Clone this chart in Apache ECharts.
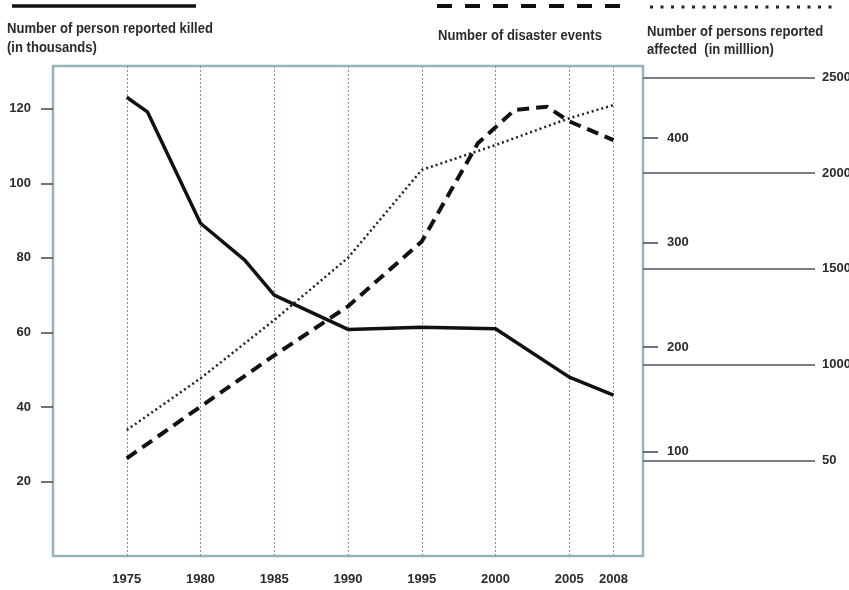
<!DOCTYPE html>
<html>
<head>
<meta charset="utf-8">
<script src="https://cdn.jsdelivr.net/npm/echarts@6/dist/echarts.min.js"></script>
<style>
  html, body { margin: 0; padding: 0; background: #fff; }
  #chart { width: 849px; height: 590px; }
</style>
</head>
<body>
<div id="chart"></div>
<script>
// tick labels
const yearTicks = [1975, 1980, 1985, 1990, 1995, 2000, 2005, 2008];
const killedTicks = [20, 40, 60, 80, 100, 120];
const eventTicks = [100, 200, 300, 400];
const affectedTicks = [500, 1000, 1500, 2000, 2500];
const affectedTickLabels = ['50', '1000', '1500', '2000', '2500'];

// persons killed (thousands)
const killedYears = [1975, 1976.4, 1980, 1983, 1985, 1990, 1995, 2000, 2005, 2008];
const killedValues = [123.1, 119.2, 89.3, 79.4, 70.0, 60.8, 61.4, 61.0, 48.0, 43.2];

// disaster events
const eventYears = [1975, 1980, 1985, 1990, 1995, 1998.8, 2001.3, 2003.5, 2005, 2008];
const eventValues = [93.5, 143, 192, 239, 301, 395, 427, 430, 416, 398];

// persons affected (million)
const affectedYears = [1975, 1980, 1985, 1990, 1995, 2000, 2005, 2008];
const affectedValues = [658, 928, 1233, 1558, 2017, 2147, 2287, 2356];

const font = "'Liberation Sans', Arial, sans-serif";
const textColor = '#2b2b2b';
const borderColor = '#97b4bc';

function zip(xs, ys) {
  return xs.map((x, i) => [x, ys[i]]);
}

const chart = echarts.init(document.getElementById('chart'), null, { renderer: 'canvas' });

const labelStyle = {
  fontFamily: font,
  fontWeight: 'bold',
  fontSize: 13,
  color: textColor
};

chart.setOption({
  animation: false,
  backgroundColor: '#fff',
  grid: {
    left: 53,
    right: 206,
    top: 66,
    bottom: 34,
    outerBoundsMode: 'none',
    containLabel: false,
    show: true,
    borderColor: borderColor,
    borderWidth: 2.5,
    backgroundColor: 'transparent'
  },
  xAxis: {
    type: 'value',
    min: 1970,
    max: 2010,
    axisLine: { show: false },
    axisTick: { show: false },
    splitLine: { show: false },
    axisLabel: Object.assign({
      customValues: yearTicks,
      margin: 17,
      formatter: v => String(v)
    }, labelStyle)
  },
  yAxis: [
    {
      type: 'value',
      position: 'left',
      min: 0,
      max: 131.5,
      axisLine: { show: false },
      splitLine: { show: false },
      axisTick: {
        show: true,
        customValues: killedTicks,
        length: 12,
        lineStyle: { color: '#444', width: 1.5 }
      },
      axisLabel: Object.assign({ customValues: killedTicks, margin: 22 }, labelStyle)
    },
    {
      type: 'value',
      position: 'right',
      min: 0,
      max: 469,
      axisLine: { show: false },
      splitLine: { show: false },
      axisTick: {
        show: true,
        customValues: eventTicks,
        length: 15,
        lineStyle: { color: '#444', width: 1.5 }
      },
      axisLabel: Object.assign({ customValues: eventTicks, margin: 24 }, labelStyle)
    },
    {
      type: 'value',
      position: 'right',
      offset: 172,
      min: 0,
      max: 2560,
      axisLine: { show: false },
      splitLine: { show: false },
      axisTick: {
        show: true,
        inside: true,
        customValues: affectedTicks,
        length: 172,
        lineStyle: { color: '#555', width: 1.5 }
      },
      axisLabel: Object.assign({
        customValues: affectedTicks,
        margin: 7,
        formatter: v => affectedTickLabels[affectedTicks.indexOf(v)]
      }, labelStyle)
    }
  ],
  series: [
    {
      name: 'Number of person reported killed',
      type: 'line',
      yAxisIndex: 0,
      data: zip(killedYears, killedValues),
      showSymbol: false,
      lineStyle: { color: '#111', width: 3.5 },
      z: 3,
      markLine: {
        silent: true,
        symbol: ['none', 'none'],
        label: { show: false },
        z: 1,
        lineStyle: { color: '#9a8a8a', width: 1, type: [2, 2] },
        data: yearTicks.map(y => ({ xAxis: y }))
      }
    },
    {
      name: 'Number of disaster events',
      type: 'line',
      yAxisIndex: 1,
      data: zip(eventYears, eventValues),
      showSymbol: false,
      lineStyle: { color: '#111', width: 4, type: [12, 7] },
      z: 3
    },
    {
      name: 'Number of persons reported affected',
      type: 'line',
      yAxisIndex: 2,
      data: zip(affectedYears, affectedValues),
      showSymbol: false,
      lineStyle: { color: '#222', width: 2.5, type: [2, 3] },
      z: 3
    }
  ],
  graphic: [
    // legend samples
    { type: 'line', shape: { x1: 12, y1: 6, x2: 196, y2: 6 }, style: { stroke: '#111', lineWidth: 3.5 } },
    { type: 'line', shape: { x1: 437, y1: 6, x2: 620, y2: 6 }, style: { stroke: '#111', lineWidth: 4, lineDash: [15, 13] } },
    { type: 'line', shape: { x1: 650, y1: 7, x2: 832, y2: 7 }, style: { stroke: '#222', lineWidth: 3, lineDash: [3, 7.5] } },
    // legend texts
    { type: 'text', x: 7, y: 19, scaleX: 0.87, style: { text: 'Number of person reported killed\n(in thousands)', font: 'bold 15px ' + font, fill: textColor, lineHeight: 19 } },
    { type: 'text', x: 438, y: 28, scaleX: 0.87, style: { text: 'Number of disaster events', font: 'bold 15px ' + font, fill: textColor } },
    { type: 'text', x: 647, y: 23, scaleX: 0.87, style: { text: 'Number of persons reported\naffected  (in milllion)', font: 'bold 15px ' + font, fill: textColor, lineHeight: 18 } }
  ]
});
</script>
</body>
</html>
